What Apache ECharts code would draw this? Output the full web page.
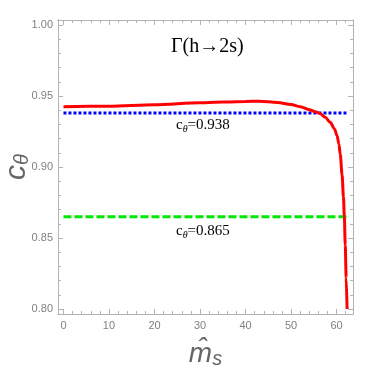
<!DOCTYPE html>
<html>
<head>
<meta charset="utf-8">
<script src="https://cdn.jsdelivr.net/npm/echarts@6/dist/echarts.min.js"></script>
<style>
  html, body { margin: 0; padding: 0; background: #fff; }
  #chart { width: 374px; height: 368px; }
</style>
</head>
<body>
<div id="chart"></div>
<script>
// Tick positions
var xMajor = [0, 10, 20, 30, 40, 50, 60];
var xMinor = [2, 4, 6, 8, 12, 14, 16, 18, 22, 24, 26, 28, 32, 34, 36, 38, 42, 44, 46, 48, 52, 54, 56, 58, 62];
var yMajor = [0.80, 0.85, 0.90, 0.95, 1.00];
var yMinor = [0.81, 0.82, 0.83, 0.84, 0.86, 0.87, 0.88, 0.89, 0.91, 0.92, 0.93, 0.94, 0.96, 0.97, 0.98, 0.99];

// Red curve
var curveX = [0, 10, 20, 30, 40, 43, 47, 50, 52, 54, 55.5, 56.4, 57.5, 58.6, 59.5, 60.1, 60.5, 60.8, 61.2, 61.5, 61.7, 61.9, 62.1, 62.3];
var curveY = [0.9425, 0.9428, 0.9438, 0.9452, 0.9462, 0.9463, 0.9455, 0.9440, 0.9425, 0.9403, 0.9388, 0.9375, 0.9350, 0.9315, 0.9270, 0.9222, 0.9160, 0.9090, 0.8945, 0.879, 0.865, 0.845, 0.822, 0.800];

// Reference levels
var blueLevel = 0.938;
var greenLevel = 0.865;
var levelX = [0, 62.6];

var xMin = -1.2, xMax = 63.6;
var yMin = 0.7965, yMax = 1.0035;

var frameColor = '#b3b3b3';
var labelColor = '#808080';

function xAxisDef(pos, ticks, len, labels) {
  return {
    type: 'value', position: pos, min: xMin, max: xMax,
    axisLine: { show: true, onZero: false, lineStyle: { color: frameColor, width: 1 } },
    axisTick: { show: true, inside: true, length: len, customValues: ticks, lineStyle: { color: frameColor } },
    axisLabel: labels ? { show: true, customValues: ticks, color: labelColor, fontSize: 11, fontFamily: 'Liberation Sans', margin: 6 } : { show: false },
    splitLine: { show: false }
  };
}

function yAxisDef(pos, ticks, len, labels) {
  return {
    type: 'value', position: pos, min: yMin, max: yMax,
    axisLine: { show: true, onZero: false, lineStyle: { color: frameColor, width: 1 } },
    axisTick: { show: true, inside: true, length: len, customValues: ticks, lineStyle: { color: frameColor } },
    axisLabel: labels ? {
      show: true, customValues: ticks, color: labelColor, fontSize: 11, fontFamily: 'Liberation Sans', margin: 5,
      formatter: function (v) { return v.toFixed(2); }
    } : { show: false },
    splitLine: { show: false }
  };
}

var xAxes = [
  xAxisDef('bottom', xMajor, 5, true),
  xAxisDef('bottom', xMinor, 3, false),
  xAxisDef('top', xMajor, 5, false),
  xAxisDef('top', xMinor, 3, false)
];
xAxes[0].name = '{m|m\u0302}{s|s}';
xAxes[0].nameLocation = 'middle';
xAxes[0].nameGap = 25;
xAxes[0].nameTextStyle = {
  rich: {
    m: { fontSize: 28, fontStyle: 'italic', color: '#666', fontFamily: 'Liberation Sans', lineHeight: 30 },
    s: { fontSize: 20, fontStyle: 'italic', color: '#666', fontFamily: 'Liberation Sans', verticalAlign: 'bottom', lineHeight: 18 }
  }
};

var yAxes = [
  yAxisDef('left', yMajor, 5, true),
  yAxisDef('left', yMinor, 3, false),
  yAxisDef('right', yMajor, 5, false),
  yAxisDef('right', yMinor, 3, false)
];
yAxes[0].name = '{c|c}{t|\u03b8}';
yAxes[0].nameLocation = 'middle';
yAxes[0].nameGap = 26;
yAxes[0].nameMoveOverlap = false;
yAxes[0].nameTextStyle = {
  rich: {
    c: { fontSize: 30, fontStyle: 'italic', color: '#666', fontFamily: 'Liberation Sans', lineHeight: 30 },
    t: { fontSize: 20, fontStyle: 'italic', color: '#666', fontFamily: 'Liberation Sans', verticalAlign: 'bottom', lineHeight: 20 }
  }
};

function zip(xs, ys) {
  return xs.map(function (x, i) { return [x, ys[i]]; });
}

var serif = 'Liberation Serif';
function levelLabel(val) {
  return '{c|c}{t|\u03b8}{v|=' + val.toFixed(3) + '}';
}
var labelRich = {
  c: { fontSize: 15, fontFamily: serif, color: '#000', lineHeight: 18 },
  t: { fontSize: 10, fontFamily: serif, fontStyle: 'italic', color: '#000', verticalAlign: 'bottom', lineHeight: 13 },
  v: { fontSize: 15, fontFamily: serif, color: '#000', lineHeight: 18 }
};

var chart = echarts.init(document.getElementById('chart'));
chart.setOption({
  animation: false,
  grid: { left: 58, right: 21, top: 20, bottom: 54, containLabel: false, outerBoundsMode: 'none' },
  xAxis: xAxes,
  yAxis: yAxes,
  graphic: [
    { type: 'text', left: 171, top: 37, style: { text: '\u0393(h\u21922s)', fontSize: 20, fontFamily: serif, fill: '#000' } },
    { type: 'text', left: 176, top: 118, style: { text: levelLabel(blueLevel), rich: labelRich } },
    { type: 'text', left: 176, top: 224, style: { text: levelLabel(greenLevel), rich: labelRich } }
  ],
  series: [
    {
      type: 'line', data: levelX.map(function (x) { return [x, blueLevel]; }),
      showSymbol: false, z: 2,
      lineStyle: { color: '#0000ff', width: 3, type: [3, 2], cap: 'butt' }
    },
    {
      type: 'line', data: levelX.map(function (x) { return [x, greenLevel]; }),
      showSymbol: false, z: 2,
      lineStyle: { color: '#00e600', width: 3, type: [8, 3], cap: 'butt' }
    },
    {
      type: 'line', data: zip(curveX, curveY),
      showSymbol: false, smooth: 0.3, smoothMonotone: 'x', z: 3,
      lineStyle: { color: '#ff0000', width: 3 }
    }
  ]
});
</script>
</body>
</html>
